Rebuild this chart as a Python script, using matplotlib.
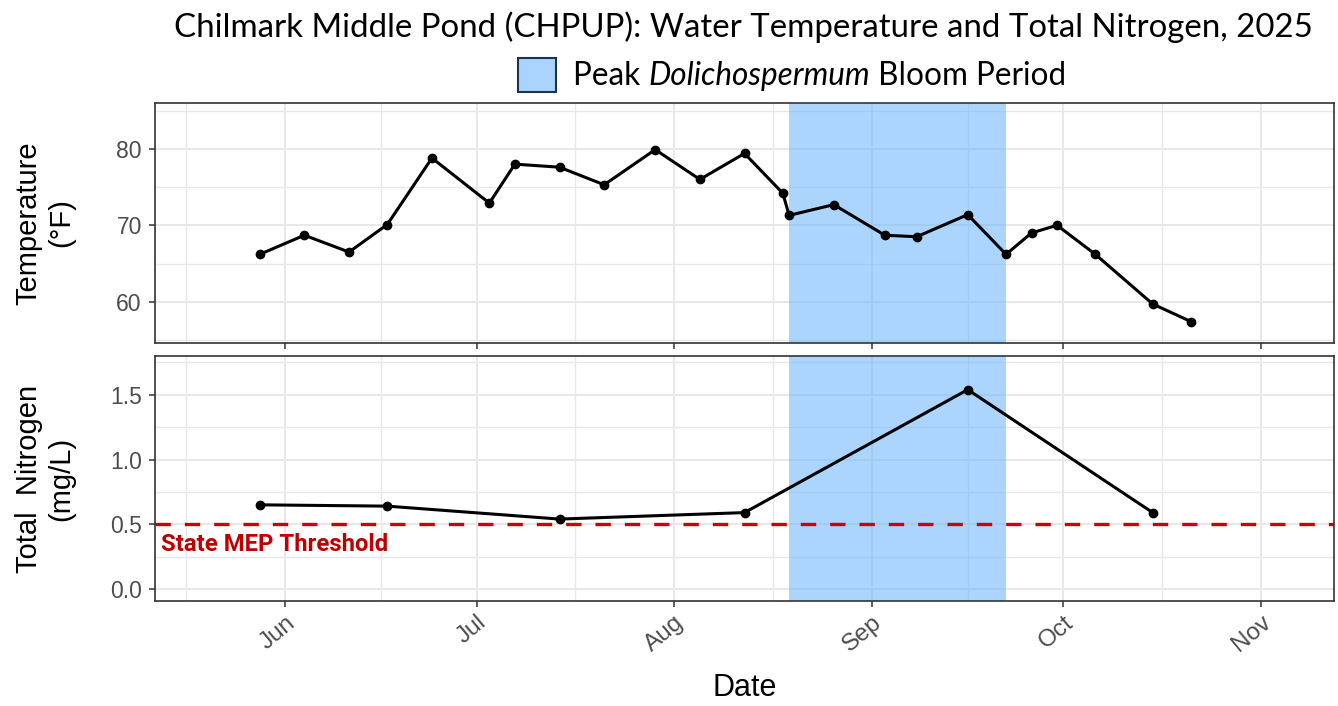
import pandas as pd
import matplotlib
matplotlib.use('Agg')
import matplotlib.pyplot as plt
import matplotlib.dates as mdates
from matplotlib.patches import Rectangle

# water temperature (F)
temp_dates = ['2025-05-28', '2025-06-04', '2025-06-11', '2025-06-17', '2025-06-24',
              '2025-07-03', '2025-07-07', '2025-07-14', '2025-07-21', '2025-07-29',
              '2025-08-05', '2025-08-12', '2025-08-18', '2025-08-19', '2025-08-26',
              '2025-09-03', '2025-09-08', '2025-09-16', '2025-09-22', '2025-09-26',
              '2025-09-30', '2025-10-06', '2025-10-15', '2025-10-21']
temp_vals = [66.2, 68.7, 66.5, 70.1, 78.8,
             72.9, 78.0, 77.6, 75.3, 79.9,
             76.0, 79.4, 74.2, 71.3, 72.7,
             68.7, 68.5, 71.4, 66.2, 69.0,
             70.0, 66.2, 59.7, 57.4]

# total nitrogen (mg/L)
tn_dates = ['2025-05-28', '2025-06-17', '2025-07-14', '2025-08-12', '2025-09-16', '2025-10-15']
tn_vals = [0.65, 0.64, 0.54, 0.59, 1.54, 0.59]

bloom_start = '2025-08-19'
bloom_end = '2025-09-22'
threshold = 0.5

month_ticks = ['2025-06-01', '2025-07-01', '2025-08-01', '2025-09-01', '2025-10-01', '2025-11-01']
month_labels = ['Jun', 'Jul', 'Aug', 'Sep', 'Oct', 'Nov']
mid_ticks = ['2025-05-16 12:00', '2025-06-16 00:00', '2025-07-16 12:00', '2025-08-16 12:00',
             '2025-09-16 00:00', '2025-10-16 12:00']

td = pd.to_datetime(temp_dates)
nd = pd.to_datetime(tn_dates)
xlim = (pd.Timestamp('2025-05-11 14:00'), pd.Timestamp('2025-11-12 10:00'))

W, H = 1338, 706
fig = plt.figure(figsize=(W / 100, H / 100), dpi=100)
ax1 = fig.add_axes([155 / W, (H - 343) / H, (1334 - 155) / W, (343 - 103) / H])
ax2 = fig.add_axes([155 / W, (H - 601) / H, (1334 - 155) / W, (601 - 356) / H])

grid_col = '#e8e8e8'
tick_col = '#4d4d4d'

for ax in (ax1, ax2):
    ax.set_xlim(xlim)
    ax.set_xticks(pd.to_datetime(month_ticks))
    ax.set_xticks(pd.to_datetime(mid_ticks), minor=True)
    ax.grid(True, which='major', color=grid_col, lw=1.4, zorder=0)
    ax.grid(True, which='minor', color=grid_col, lw=1.0, zorder=0)
    ax.tick_params(which='minor', length=0)
    ax.set_axisbelow(True)
    for s in ax.spines.values():
        s.set_color('#333333')
        s.set_linewidth(1.2)
    ax.axvspan(pd.Timestamp(bloom_start), pd.Timestamp(bloom_end),
               color='#74b9fa', alpha=0.6, lw=0, zorder=1)

# temperature panel
ax1.plot(td, temp_vals, color='black', lw=2.2, marker='o', ms=6, zorder=3)
ax1.set_ylim(54.6, 86.0)
ax1.set_yticks([60, 70, 80])
ax1.set_yticks([55, 65, 75, 85], minor=True)
ax1.set_xticklabels([])
ax1.set_ylabel('Temperature\n(°F)', fontsize=21, family='Liberation Sans')

# nitrogen panel
ax2.plot(nd, tn_vals, color='black', lw=2.2, marker='o', ms=6, zorder=3)
ax2.axhline(threshold, color='#cc0000', lw=2.4, ls=(0, (4.6, 4.2)), zorder=2)
ax2.text(pd.Timestamp('2025-05-12 12:00'), threshold - 0.16, 'State MEP Threshold',
         color='#c00000', fontsize=17.2, fontweight='bold', family='Roboto',
         ha='left', va='center', zorder=4)
ax2.set_ylim(-0.093, 1.80)
ax2.set_yticks([0.0, 0.5, 1.0, 1.5])
ax2.set_yticks([0.25, 0.75, 1.25, 1.75], minor=True)
ax2.set_yticklabels(['0.0', '0.5', '1.0', '1.5'])
ax2.set_xticklabels(month_labels, rotation=40, ha='right', rotation_mode='anchor')
ax2.set_ylabel('Total  Nitrogen\n(mg/L)', fontsize=21, family='Liberation Sans')
ax2.set_xlabel('Date', fontsize=22, family='Liberation Sans')

for ax in (ax1, ax2):
    ax.tick_params(which='major', length=4, width=1.1, color='#333333', pad=3.5)
    ax.tick_params(axis='y', which='major', pad=5.5)
    for lab in ax.get_yticklabels():
        lab.set_family('Liberation Sans')
        lab.set_fontsize(16.5)
        lab.set_color(tick_col)
    for lab in ax.get_xticklabels():
        lab.set_family('Liberation Sans')
        lab.set_fontsize(17.5)
        lab.set_color(tick_col)
ax1.yaxis.set_label_coords(-80 / (1334 - 155), 0.5)
ax2.yaxis.set_label_coords(-80 / (1334 - 155), 0.5)
ax2.xaxis.set_label_coords(0.5, -72 / (601 - 356))

# title
fig.text(743 / W, 1 - 27 / H, 'Chilmark Middle Pond (CHPUP): Water Temperature and Total Nitrogen, 2025',
         fontsize=23.8, family='Lato', ha='center', va='center')

# legend
fig.patches.append(Rectangle((518 / W, 1 - 92 / H), 38 / W, 34 / H, transform=fig.transFigure,
                             facecolor='#aad4fd', edgecolor='#1c3350', lw=1.5))
fig.canvas.draw()
r = fig.canvas.get_renderer()
x = 573 / W
y = 1 - 76 / H
for txt, style in [('Peak ', 'normal'), ('Dolichospermum', 'italic'), (' Bloom Period', 'normal')]:
    t = fig.text(x, y, txt, fontsize=22.7, family='Lato', style=style, ha='left', va='center')
    bb = t.get_window_extent(renderer=r)
    x += bb.width / W

fig.savefig('out.png', dpi=100)
